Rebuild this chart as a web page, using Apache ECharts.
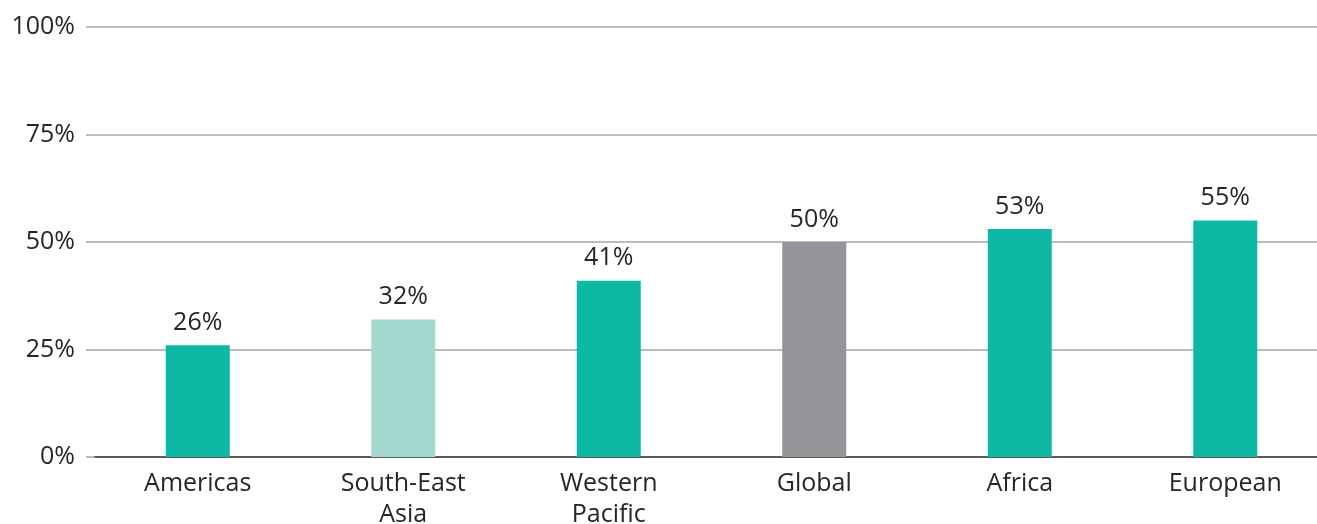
<!DOCTYPE html>
<html>
<head>
<meta charset="utf-8">
<script src="https://cdn.jsdelivr.net/npm/echarts@6/dist/echarts.min.js"></script>
<style>
  html, body { margin: 0; padding: 0; background: #fff; }
  #chart { width: 1317px; height: 524px; }
</style>
</head>
<body>
<div id="chart"></div>
<script>
// data
const regions = ["Americas", "South-East\nAsia", "Western\nPacific", "Global", "Africa", "European"];
const shares = [26, 32, 41, 50, 53, 55];
const barColors = ["#0db9a5", "#a2d8ce", "#0db9a5", "#949599", "#0db9a5", "#0db9a5"];
const yTicks = [0, 25, 50, 75, 100];

const font = "'Open Sans', 'Noto Sans', sans-serif";
let chart = echarts.init(document.getElementById("chart"));

let option = {
  animation: false,
  textStyle: { fontFamily: font },
  grid: [
    // grid 0: value axis labels + gridlines (lines start a bit left of the bars' axis)
    { left: 86, right: 0, top: 27, bottom: 67, outerBoundsMode: "none", containLabel: false },
    // grid 1: category axis and bars
    { left: 95, right: -11, top: 27, bottom: 67, outerBoundsMode: "none", containLabel: false }
  ],
  xAxis: [
    { gridIndex: 0, type: "value", show: false, min: 0, max: 1 },
    {
      gridIndex: 1,
      type: "category",
      data: regions,
      axisLine: { lineStyle: { color: "#3a3a3a", width: 1.5 } },
      axisTick: { show: false },
      axisLabel: { color: "#262626", fontSize: 25, fontFamily: font, margin: 11, lineHeight: 31 }
    }
  ],
  yAxis: [
    {
      gridIndex: 0,
      type: "value",
      min: yTicks[0],
      max: yTicks[yTicks.length - 1],
      interval: 25,
      axisLine: { show: false },
      axisTick: { show: false },
      axisLabel: { formatter: "{value}%", color: "#262626", fontSize: 25, fontFamily: font, margin: 11 },
      splitLine: { lineStyle: { color: "#a6a6a6", width: 1.5 } }
    },
    { gridIndex: 1, type: "value", show: false, min: 0, max: 100 }
  ],
  series: [
    {
      type: "bar",
      xAxisIndex: 1,
      yAxisIndex: 1,
      barWidth: 64,
      data: shares.map((v, i) => ({ value: v, itemStyle: { color: barColors[i] } })),
      label: {
        show: true,
        position: "top",
        distance: 10,
        formatter: "{c}%",
        color: "#262626",
        fontSize: 25,
        fontFamily: font
      }
    }
  ]
};

chart.setOption(option);
</script>
</body>
</html>
